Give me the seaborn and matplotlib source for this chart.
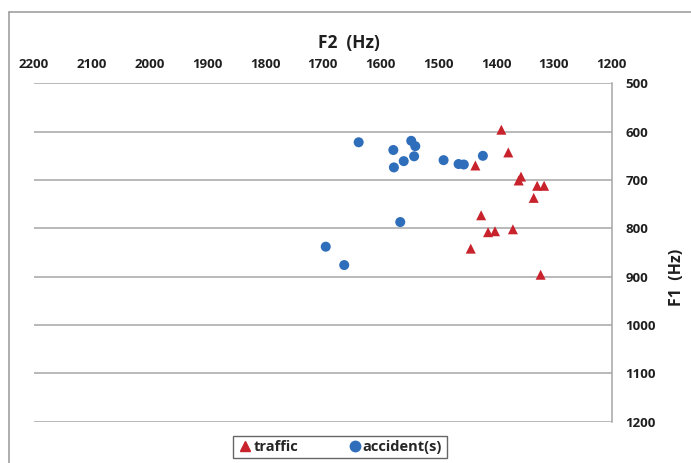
import pandas as pd
import matplotlib.pyplot as plt
from matplotlib.lines import Line2D
import seaborn as sns

# F2 / F1 values (Hz)
traffic_f2 = [1391, 1379, 1436, 1361, 1357, 1329, 1317, 1335, 1426, 1414, 1402, 1371, 1444, 1323]
traffic_f1 = [596, 643, 670, 701, 693, 712, 712, 737, 773, 808, 806, 802, 842, 896]
accident_f2 = [1638, 1578, 1577, 1560, 1547, 1540, 1542, 1491, 1465, 1456, 1423, 1566, 1695, 1663]
accident_f1 = [622, 638, 674, 661, 619, 630, 651, 659, 667, 668, 650, 787, 838, 876]
x_ticks = list(range(2200, 1199, -100))
y_ticks = list(range(500, 1201, 100))

df = pd.DataFrame({
    'F2': traffic_f2 + accident_f2,
    'F1': traffic_f1 + accident_f1,
    'word': ['traffic'] * len(traffic_f2) + ['accident(s)'] * len(accident_f2),
})

sns.set_style('white')
plt.rcParams['font.family'] = ['Open Sans', 'DejaVu Sans']
plt.rcParams['font.weight'] = 'bold'

W, H = 691, 463
fig = plt.figure(figsize=(W / 100, H / 100), dpi=100)
ax = fig.add_axes([34 / W, 1 - 421.7 / H, (611.7 - 34) / W, (421.7 - 83.3) / H])

colors = {'traffic': '#C8232C', 'accident(s)': '#2F6EBA'}
markers = {'traffic': '^', 'accident(s)': 'o'}
sns.scatterplot(data=df, x='F2', y='F1', hue='word', style='word',
                hue_order=['traffic', 'accident(s)'], style_order=['traffic', 'accident(s)'],
                palette=colors, markers=markers, s=52, edgecolor='none',
                legend=False, ax=ax, zorder=3)

ax.set_xlim(2200, 1200)
ax.set_ylim(1200, 500)
ax.xaxis.tick_top()
ax.yaxis.tick_right()
ax.set_xticks(x_ticks)
ax.set_yticks(y_ticks)
ax.set_xticklabels([str(t) for t in x_ticks], fontsize=9.5, fontweight='bold', color='#1f1f1f')
ax.set_yticklabels([str(t) for t in y_ticks], fontsize=9.5, fontweight='bold', color='#1f1f1f')
ax.tick_params(axis='x', length=0, pad=9)
ax.tick_params(axis='y', length=0, pad=10)
ax.set_xlabel('')
ax.set_ylabel('')
ax.grid(axis='y', color='#A6A6A6', lw=1.1)
ax.grid(axis='x', visible=False)
for s in ['left', 'top', 'bottom']:
    ax.spines[s].set_visible(False)
ax.spines['right'].set_color('#A6A6A6')
ax.spines['right'].set_linewidth(1.1)

fig.text(349 / W, 1 - 43 / H, 'F2  (Hz)', ha='center', va='center', fontsize=12.5, fontweight='bold', color='#1f1f1f')
fig.text(677 / W, 1 - 277 / H, 'F1  (Hz)', ha='center', va='center', rotation=90,
         fontsize=11.5, fontweight='bold', color='#1f1f1f')

handles = [Line2D([], [], marker='^', color=colors['traffic'], ls='none', markersize=7.5),
           Line2D([], [], marker='o', color=colors['accident(s)'], ls='none', markersize=7.5)]
leg = ax.legend(handles, ['traffic', 'accident(s)'], loc='center', ncol=2,
                bbox_to_anchor=(340 / W, 1 - 447 / H), bbox_transform=fig.transFigure,
                frameon=True, fancybox=False, handletextpad=0.05, columnspacing=3.4,
                handlelength=1.0, borderpad=0.3, borderaxespad=0,
                prop={'weight': 'bold', 'size': 10.5})
leg.get_frame().set_edgecolor('#404040')
leg.get_frame().set_linewidth(1.0)

# outer chart border
fig.add_artist(Line2D([9 / W, 1], [1 - 12 / H, 1 - 12 / H], transform=fig.transFigure, color='#A0A0A0', lw=1.2))
fig.add_artist(Line2D([9 / W, 9 / W], [0, 1 - 12 / H], transform=fig.transFigure, color='#A0A0A0', lw=1.2))

fig.savefig('out.png', dpi=100)
